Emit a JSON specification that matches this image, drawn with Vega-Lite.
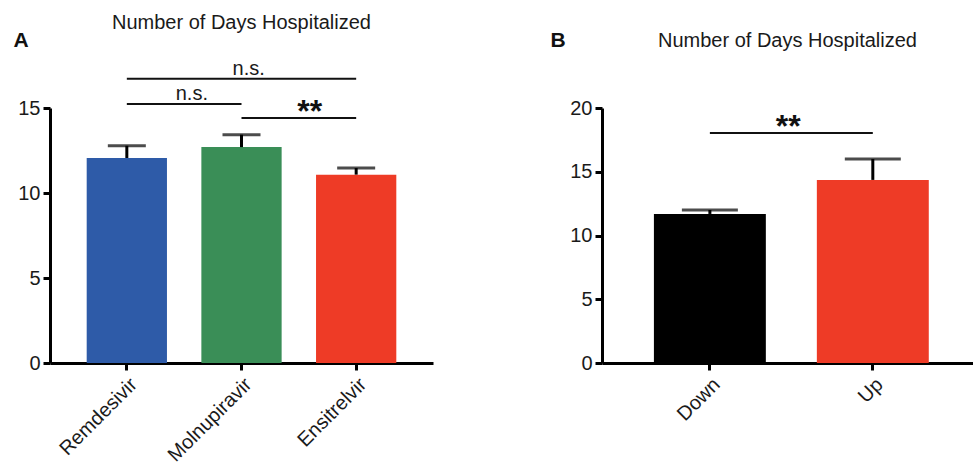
{
  "$schema": "https://vega.github.io/schema/vega-lite/v6.json",
  "padding": {"left": 13, "top": 13, "right": 0, "bottom": 0},
  "spacing": 117,
  "resolve": {"scale": {"color": "independent"}},
  "config": {
    "view": {"stroke": null},
    "font": "Liberation Sans",
    "axis": {
      "domainWidth": 3, "domainColor": "#000", "tickWidth": 3, "tickColor": "#000",
      "tickSize": 7, "labelFontSize": 20, "labelFont": "Liberation Sans", "labelColor": "#1a1a1a",
      "grid": false, "labelPadding": 3
    },
    "title": {"fontSize": 20, "font": "Liberation Sans", "fontWeight": "normal", "color": "#1a1a1a", "anchor": "middle"}
  },
  "hconcat": [
    {
      "width": 383, "height": 255,
      "title": {"text": "Number of Days Hospitalized", "offset": -4},
      "layer": [
        {
          "data": {"values": [
            {"drug": "Remdesivir", "mean": 12.06, "upper": 12.78},
            {"drug": "Molnupiravir", "mean": 12.7, "upper": 13.43},
            {"drug": "Ensitrelvir", "mean": 11.08, "upper": 11.47}
          ]},
          "layer": [
            {
              "mark": {"type": "bar"},
              "encoding": {
                "x": {"field": "drug", "type": "nominal", "sort": null,
                  "scale": {"paddingInner": 0.3, "paddingOuter": 0.32},
                  "axis": {"title": null, "labelAngle": -45, "labelAlign": "right", "labelBaseline": "top", "labelPadding": 4}},
                "y": {"field": "mean", "type": "quantitative",
                  "scale": {"domain": [0, 15], "nice": false},
                  "axis": {"values": [0, 5, 10, 15], "title": "A", "titleAngle": 0, "titleFontSize": 21, "titleFontWeight": "bold",
                    "titleAlign": "left", "titleBaseline": "middle", "titleX": -37, "titleY": -68, "titleColor": "#111"}},
                "color": {"field": "drug", "type": "nominal", "legend": null,
                  "scale": {"domain": ["Remdesivir", "Molnupiravir", "Ensitrelvir"], "range": ["#2E5BA8", "#3A8E57", "#EE3B26"]}}
              }
            },
            {
              "mark": {"type": "rule", "strokeWidth": 3, "color": "#000"},
              "encoding": {
                "x": {"field": "drug", "type": "nominal", "sort": null},
                "y": {"field": "mean", "type": "quantitative"},
                "y2": {"field": "upper"}
              }
            },
            {
              "mark": {"type": "tick", "size": 38, "thickness": 3, "color": "#000", "orient": "horizontal"},
              "encoding": {
                "x": {"field": "drug", "type": "nominal", "sort": null},
                "y": {"field": "upper", "type": "quantitative"}
              }
            }
          ]
        },
        {
          "data": {"values": [
            {"from": "Remdesivir", "to": "Ensitrelvir", "level": 16.72},
            {"from": "Remdesivir", "to": "Molnupiravir", "level": 15.24},
            {"from": "Molnupiravir", "to": "Ensitrelvir", "level": 14.41}
          ]},
          "mark": {"type": "rule", "strokeWidth": 2, "color": "#111"},
          "encoding": {
            "x": {"field": "from", "type": "nominal", "sort": null},
            "x2": {"field": "to"},
            "y": {"field": "level", "type": "quantitative"}
          }
        },
        {
          "data": {"values": [{"at": "Molnupiravir", "level": 16.72, "label": "n.s."}]},
          "mark": {"type": "text", "fontSize": 20, "color": "#1a1a1a", "baseline": "alphabetic", "dy": -4},
          "encoding": {
            "x": {"field": "at", "type": "nominal", "sort": null, "bandPosition": 0.59},
            "y": {"field": "level", "type": "quantitative"},
            "text": {"field": "label"}
          }
        },
        {
          "data": {"values": [{"at": "Remdesivir", "level": 15.24, "label": "n.s."}]},
          "mark": {"type": "text", "fontSize": 20, "color": "#1a1a1a", "baseline": "alphabetic", "dy": -4},
          "encoding": {
            "x": {"field": "at", "type": "nominal", "sort": null, "bandPosition": 1.31},
            "y": {"field": "level", "type": "quantitative"},
            "text": {"field": "label"}
          }
        },
        {
          "data": {"values": [{"at": "Molnupiravir", "level": 14.41, "label": "**"}]},
          "mark": {"type": "text", "fontSize": 32, "fontWeight": "bold", "color": "#111", "baseline": "alphabetic", "dy": 4},
          "encoding": {
            "x": {"field": "at", "type": "nominal", "sort": null, "bandPosition": 1.35},
            "y": {"field": "level", "type": "quantitative"},
            "text": {"field": "label"}
          }
        }
      ]
    },
    {
      "width": 371, "height": 255,
      "title": {"text": "Number of Days Hospitalized", "offset": -22},
      "layer": [
        {
          "data": {"values": [
            {"group": "Down", "mean": 11.69, "upper": 12.0},
            {"group": "Up", "mean": 14.36, "upper": 16.0}
          ]},
          "layer": [
            {
              "mark": {"type": "bar"},
              "encoding": {
                "x": {"field": "group", "type": "nominal", "sort": null,
                  "scale": {"paddingInner": 0.313, "paddingOuter": 0.295, "align": 0.54},
                  "axis": {"title": null, "labelAngle": -45, "labelAlign": "right", "labelBaseline": "top", "labelPadding": 4}},
                "y": {"field": "mean", "type": "quantitative",
                  "scale": {"domain": [0, 20], "nice": false},
                  "axis": {"values": [0, 5, 10, 15, 20], "title": "B", "titleAngle": 0, "titleFontSize": 21, "titleFontWeight": "bold",
                    "titleAlign": "left", "titleBaseline": "middle", "titleX": -52, "titleY": -68, "titleColor": "#111"}},
                "color": {"field": "group", "type": "nominal", "legend": null,
                  "scale": {"domain": ["Down", "Up"], "range": ["#000000", "#EE3B26"]}}
              }
            },
            {
              "mark": {"type": "rule", "strokeWidth": 3, "color": "#000"},
              "encoding": {
                "x": {"field": "group", "type": "nominal", "sort": null},
                "y": {"field": "mean", "type": "quantitative"},
                "y2": {"field": "upper"}
              }
            },
            {
              "mark": {"type": "tick", "size": 56, "thickness": 3, "color": "#000", "orient": "horizontal"},
              "encoding": {
                "x": {"field": "group", "type": "nominal", "sort": null},
                "y": {"field": "upper", "type": "quantitative"}
              }
            }
          ]
        },
        {
          "data": {"values": [{"from": "Down", "to": "Up", "level": 18.03}]},
          "mark": {"type": "rule", "strokeWidth": 2, "color": "#111"},
          "encoding": {
            "x": {"field": "from", "type": "nominal", "sort": null},
            "x2": {"field": "to"},
            "y": {"field": "level", "type": "quantitative"}
          }
        },
        {
          "data": {"values": [{"at": "Down", "level": 18.03, "label": "**"}]},
          "mark": {"type": "text", "fontSize": 32, "fontWeight": "bold", "color": "#111", "baseline": "alphabetic", "dy": 4},
          "encoding": {
            "x": {"field": "at", "type": "nominal", "sort": null, "bandPosition": 1.2},
            "y": {"field": "level", "type": "quantitative"},
            "text": {"field": "label"}
          }
        }
      ]
    }
  ]
}
